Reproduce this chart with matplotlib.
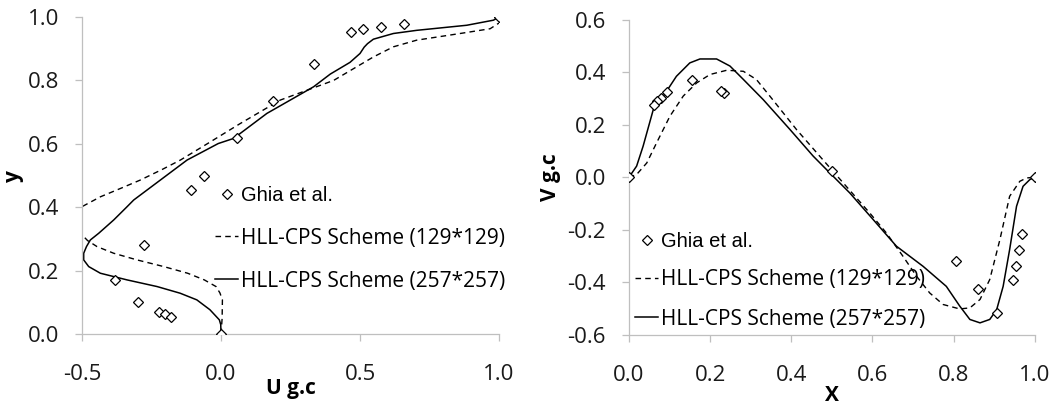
import numpy as np
import matplotlib.pyplot as plt

plt.rcParams['font.family'] = ['Open Sans', 'DejaVu Sans']

# Ghia et al. (Re=1000) reference data
ghia_y = [1.0, 0.9766, 0.9688, 0.9609, 0.9531, 0.8516, 0.7344, 0.6172, 0.5,
          0.4531, 0.2813, 0.1719, 0.1016, 0.0703, 0.0625, 0.0547, 0.0]
ghia_u = [1.0, 0.65928, 0.57492, 0.51117, 0.46604, 0.33304, 0.18719, 0.05702,
          -0.0608, -0.10648, -0.27805, -0.38289, -0.2973, -0.2222, -0.20196,
          -0.18109, 0.0]
ghia_x = [1.0, 0.9688, 0.9609, 0.9531, 0.9453, 0.9063, 0.8594, 0.8047, 0.5,
          0.2344, 0.2266, 0.1563, 0.0938, 0.0781, 0.0703, 0.0625, 0.0]
ghia_v = [0.0, -0.21388, -0.27669, -0.33714, -0.39188, -0.5155, -0.42665,
          -0.31966, 0.02526, 0.32235, 0.33075, 0.37095, 0.32627, 0.30353,
          0.29012, 0.27485, 0.0]

# HLL-CPS u-velocity along vertical centreline
u129_y = [0.0, 0.05, 0.108, 0.13, 0.15, 0.171, 0.192, 0.213, 0.234, 0.255, 0.276,
          0.295, 0.313, 0.335, 0.36, 0.385, 0.402, 0.433, 0.46, 0.486, 0.52, 0.549,
          0.60, 0.664, 0.738, 0.80, 0.843, 0.874, 0.906, 0.927, 0.948, 0.963, 0.981]
u129_u = [0.0, 0.004, 0.005, -0.004, -0.018, -0.06, -0.12, -0.206, -0.302, -0.386,
          -0.446, -0.48, -0.5, -0.53, -0.545, -0.525, -0.5, -0.434, -0.36, -0.29,
          -0.21, -0.146, -0.05, 0.069, 0.213, 0.405, 0.488, 0.548, 0.62, 0.704,
          0.86, 0.968, 1.0]
u257_y = [0.0, 0.03, 0.045, 0.077, 0.108, 0.129, 0.150, 0.171, 0.192, 0.213, 0.234,
          0.255, 0.276, 0.297, 0.318, 0.36, 0.40, 0.423, 0.486, 0.549, 0.601, 0.617,
          0.696, 0.78, 0.82, 0.857, 0.885, 0.905, 0.916, 0.93, 0.948, 0.958, 0.974,
          0.99, 1.0]
u257_u = [0.0, -0.001, -0.006, -0.04, -0.087, -0.147, -0.23, -0.338, -0.434, -0.476,
          -0.494, -0.494, -0.484, -0.47, -0.44, -0.386, -0.34, -0.314, -0.218,
          -0.122, -0.01, 0.045, 0.165, 0.333, 0.393, 0.464, 0.5, 0.515, 0.527,
          0.548, 0.62, 0.704, 0.884, 0.98, 1.0]

# HLL-CPS v-velocity along horizontal centreline
v129_x = [0.0, 0.019, 0.044, 0.068, 0.101, 0.134, 0.167, 0.2, 0.241, 0.282, 0.314,
          0.347, 0.413, 0.47, 0.528, 0.593, 0.634, 0.675, 0.709, 0.741, 0.774,
          0.815, 0.84, 0.865, 0.889, 0.914, 0.938, 0.963, 0.98, 1.0]
v129_v = [0.0, 0.011, 0.055, 0.131, 0.233, 0.31, 0.36, 0.392, 0.408, 0.404, 0.373,
          0.31, 0.182, 0.081, -0.021, -0.135, -0.211, -0.3, -0.377, -0.44, -0.484,
          -0.501, -0.497, -0.465, -0.389, -0.237, -0.072, -0.015, -0.002, 0.0]
v257_x = [0.0, 0.019, 0.035, 0.06, 0.085, 0.117, 0.15, 0.175, 0.216, 0.249, 0.282,
          0.331, 0.397, 0.454, 0.495, 0.544, 0.602, 0.659, 0.725, 0.782, 0.815,
          0.84, 0.865, 0.889, 0.906, 0.922, 0.938, 0.955, 0.971, 0.988, 1.0]
v257_v = [0.0, 0.043, 0.119, 0.258, 0.31, 0.385, 0.436, 0.451, 0.451, 0.424, 0.373,
          0.296, 0.182, 0.081, 0.017, -0.059, -0.161, -0.262, -0.339, -0.415, -0.49,
          -0.541, -0.554, -0.541, -0.504, -0.415, -0.275, -0.11, -0.034, -0.008, 0.0]

labels = ['Ghia et al.', 'HLL-CPS Scheme (129*129)', 'HLL-CPS Scheme (257*257)']

fig = plt.figure(figsize=(10.57, 4.05), dpi=100)
ax1 = fig.add_axes([0.0776, 0.175, 0.3945, 0.783])
ax2 = fig.add_axes([0.595, 0.173, 0.384, 0.778])

dash = (0, (4, 3))
mk = dict(marker='D', ms=5.5, mfc='white', mec='black', mew=0.9, ls='none')

ax1.plot(ghia_u, ghia_y, label=labels[0], zorder=3, **mk)
ax1.plot(u129_u, u129_y, color='black', lw=1.0, ls=dash, label=labels[1])
ax1.plot(u257_u, u257_y, color='black', lw=1.1, label=labels[2])
ax1.set_xlim(-0.5, 1.0)
ax1.set_ylim(0, 1.0)
ax1.set_xticks([-0.5, 0.0, 0.5, 1.0])
ax1.set_yticks(np.arange(0, 1.01, 0.2))
ax1.set_xlabel('U g.c', fontsize=15, fontweight='bold', labelpad=-5)
ax1.set_ylabel('y', fontsize=15, fontweight='bold', labelpad=3)

ax2.plot(ghia_x, ghia_v, label=labels[0], zorder=3, **mk)
ax2.plot(v129_x, v129_v, color='black', lw=1.0, ls=dash, label=labels[1])
ax2.plot(v257_x, v257_v, color='black', lw=1.1, label=labels[2])
ax2.set_xlim(0, 1.0)
ax2.set_ylim(-0.6, 0.6)
ax2.set_xticks(np.arange(0, 1.01, 0.2))
ax2.set_yticks(np.arange(-0.6, 0.61, 0.2))
ax2.set_xlabel('X', fontsize=15, fontweight='bold', labelpad=-0.5)
ax2.set_ylabel('V g.c', fontsize=15, fontweight='bold', labelpad=5)

for ax in (ax1, ax2):
    ax.xaxis.set_major_formatter(plt.FormatStrFormatter('%.1f'))
    ax.yaxis.set_major_formatter(plt.FormatStrFormatter('%.1f'))
    for s in ('top', 'right'):
        ax.spines[s].set_visible(False)
    for s in ('left', 'bottom'):
        ax.spines[s].set_color('#bfbfbf')
        ax.spines[s].set_linewidth(0.9)
    ax.tick_params(labelsize=16, colors='#bfbfbf', labelcolor='#1a1a1a',
                   length=5, width=0.9, direction='out')
    ax.tick_params(axis='x', pad=16.5)
    ax.tick_params(axis='y', pad=11.5)

leg1 = ax1.legend(loc='upper left', bbox_to_anchor=(0.3, 0.492), frameon=False,
                  fontsize=15, handlelength=1.1, handletextpad=0.15,
                  labelspacing=1.06, borderaxespad=0)
leg2 = ax2.legend(loc='upper left', bbox_to_anchor=(-0.005, 0.352), frameon=False,
                  fontsize=15, handlelength=1.1, handletextpad=0.15,
                  labelspacing=0.87, borderaxespad=0)
for leg in (leg1, leg2):
    t = leg.get_texts()[0]
    t.set_family(['Liberation Sans', 'DejaVu Sans'])
    t.set_fontsize(14.5)

fig.savefig('out.png', dpi=100)
